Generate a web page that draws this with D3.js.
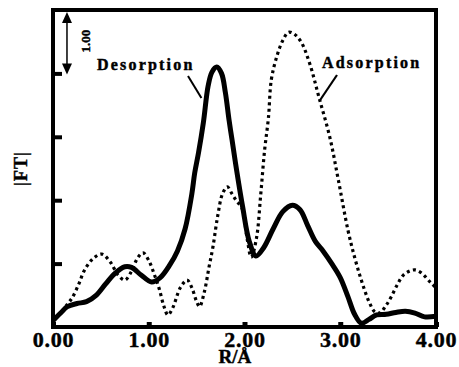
<!DOCTYPE html>
<html>
<head>
<meta charset="utf-8">
<script src="https://cdn.jsdelivr.net/npm/d3@7"></script>
<style>
body { margin: 0; background: #fff; }
text { font-family: "Liberation Serif", "Times New Roman", serif; font-weight: bold; fill: #000; stroke: #000; stroke-width: 0.45px; }
</style>
</head>
<body>
<div id="chart" style="width:459px;height:367px"></div>
<script>
// tick labels and positions (R in angstrom, |FT| in arbitrary units)
var xTicks = [0, 1, 2, 3, 4];
var yTicks = [1, 2, 3, 4];

// Desorption curve (solid)
var desR  = [0.00,0.08,0.15,0.25,0.35,0.45,0.55,0.65,0.75,0.82,0.92,1.03,1.12,1.22,1.30,1.38,1.45,1.48,1.52,1.57,1.62,1.66,1.71,1.76,1.80,1.84,1.87,1.92,1.98,2.05,2.12,2.20,2.30,2.40,2.50,2.58,2.66,2.74,2.82,2.92,3.00,3.08,3.15,3.22,3.30,3.38,3.48,3.58,3.68,3.78,3.88,4.00];
var desFT = [0.10,0.22,0.32,0.37,0.40,0.50,0.68,0.85,0.95,0.94,0.82,0.71,0.78,0.98,1.20,1.55,2.10,2.43,2.75,3.22,3.80,4.02,4.10,4.00,3.70,3.25,2.95,2.45,1.90,1.35,1.12,1.25,1.55,1.82,1.92,1.85,1.60,1.35,1.20,0.98,0.78,0.48,0.20,0.06,0.12,0.19,0.20,0.23,0.25,0.22,0.16,0.17];

// Adsorption curve (dotted)
var adsR  = [0.00,0.08,0.15,0.20,0.27,0.33,0.42,0.51,0.60,0.68,0.75,0.82,0.88,0.94,1.00,1.06,1.11,1.16,1.20,1.25,1.33,1.40,1.45,1.50,1.53,1.58,1.63,1.67,1.72,1.77,1.82,1.87,1.92,1.97,2.03,2.07,2.125,2.17,2.21,2.25,2.28,2.34,2.40,2.46,2.52,2.59,2.68,2.78,2.89,2.98,3.08,3.15,3.22,3.30,3.36,3.41,3.47,3.53,3.60,3.66,3.72,3.78,3.85,3.95,4.00];
var adsFT = [0.10,0.22,0.36,0.46,0.68,0.90,1.08,1.15,1.02,0.82,0.74,0.88,1.08,1.17,1.05,0.82,0.60,0.32,0.19,0.30,0.62,0.74,0.62,0.40,0.32,0.55,0.95,1.26,1.75,2.10,2.21,2.10,1.98,1.89,1.37,1.10,1.40,2.10,2.79,3.30,3.90,4.28,4.52,4.65,4.62,4.50,4.16,3.61,3.00,2.32,1.53,1.10,0.74,0.40,0.24,0.22,0.32,0.47,0.68,0.82,0.88,0.90,0.85,0.69,0.62];

var margin = {top: 10, right: 23, bottom: 40, left: 53},
    width = 459 - margin.left - margin.right,
    height = 367 - margin.top - margin.bottom;

var x = d3.scaleLinear().domain([0, 4]).range([0, width]);
var y = d3.scaleLinear().domain([0, 5]).range([height, 0]);

var svg = d3.select("#chart").append("svg")
    .attr("width", 459)
    .attr("height", 367)
  .append("g")
    .attr("transform", "translate(" + margin.left + "," + margin.top + ")");

var line = d3.line()
    .curve(d3.curveCatmullRom.alpha(0.5))
    .x(function(d) { return x(d[0]); })
    .y(function(d) { return y(d[1]); });

svg.append("clipPath").attr("id", "clip")
  .append("rect").attr("width", width).attr("height", height);

// dotted adsorption
svg.append("path")
    .datum(d3.zip(adsR, adsFT))
    .attr("clip-path", "url(#clip)")
    .attr("fill", "none")
    .attr("stroke", "#000")
    .attr("stroke-width", 3.2)
    .attr("stroke-dasharray", "3,3.4")
    .attr("d", line);

// solid desorption
svg.append("path")
    .datum(d3.zip(desR, desFT))
    .attr("clip-path", "url(#clip)")
    .attr("fill", "none")
    .attr("stroke", "#000")
    .attr("stroke-width", 5)
    .attr("stroke-linejoin", "round")
    .attr("d", line);

// X axis, ticks pointing inwards
var xAxis = svg.append("g")
    .attr("transform", "translate(0," + height + ")")
    .call(d3.axisBottom(x).tickValues(xTicks).tickFormat(d3.format(".2f"))
      .tickSizeInner(-5).tickSizeOuter(0).tickPadding(4));
xAxis.select(".domain").remove();
xAxis.selectAll(".tick line").attr("stroke-width", 5);
xAxis.selectAll(".tick text")
    .style("font-size", "22px")
    .style("letter-spacing", "0.8px")
    .attr("font-family", null);

// Y axis, no labels
var yAxis = svg.append("g")
    .call(d3.axisLeft(y).tickValues(yTicks).tickFormat("")
      .tickSizeInner(-9).tickSizeOuter(0));
yAxis.select(".domain").remove();
yAxis.selectAll(".tick line").attr("stroke-width", 4);

// frame
svg.append("rect")
    .attr("width", width)
    .attr("height", height)
    .attr("fill", "none")
    .attr("stroke", "#000")
    .attr("stroke-width", 4);

// axis titles
svg.append("text")
    .attr("x", x(1.9))
    .attr("y", height + 36)
    .attr("text-anchor", "middle")
    .style("font-size", "19px")
    .text("R/Å");

svg.append("text")
    .attr("transform", "translate(" + (-26) + "," + y(2.5) + ") rotate(-90)")
    .attr("text-anchor", "middle")
    .style("font-size", "18px")
    .style("letter-spacing", "1px")
    .text("|FT|");

// scale bar of 1.00
var sx = x(0.146);
svg.append("line")
    .attr("x1", sx).attr("x2", sx)
    .attr("y1", y(5) + 8).attr("y2", y(4) - 8)
    .attr("stroke", "#000").attr("stroke-width", 1.5);
svg.append("path")
    .attr("d", "M" + sx + "," + (y(5) + 2) + "l-5,11h10z")
    .attr("fill", "#000");
svg.append("path")
    .attr("d", "M" + sx + "," + (y(4) + 1) + "l-5,-11h10z")
    .attr("fill", "#000");
svg.append("text")
    .attr("transform", "translate(" + (sx + 23) + "," + (y(5) + 31) + ") rotate(-90)")
    .attr("text-anchor", "middle")
    .style("font-size", "13px")
    .text("1.00");

// curve labels with leader lines
svg.append("text")
    .attr("x", 44)
    .attr("y", 60)
    .style("font-size", "16px")
    .style("letter-spacing", "2.2px")
    .text("Desorption");
svg.append("line")
    .attr("x1", 135).attr("y1", 66)
    .attr("x2", x(1.55)).attr("y2", 88)
    .attr("stroke", "#000").attr("stroke-width", 2);

svg.append("text")
    .attr("x", 269)
    .attr("y", 58)
    .style("font-size", "16px")
    .style("letter-spacing", "2.2px")
    .text("Adsorption");
svg.append("line")
    .attr("x1", 284).attr("y1", 65)
    .attr("x2", x(2.79)).attr("y2", 90)
    .attr("stroke", "#000").attr("stroke-width", 2.2);
</script>
</body>
</html>
